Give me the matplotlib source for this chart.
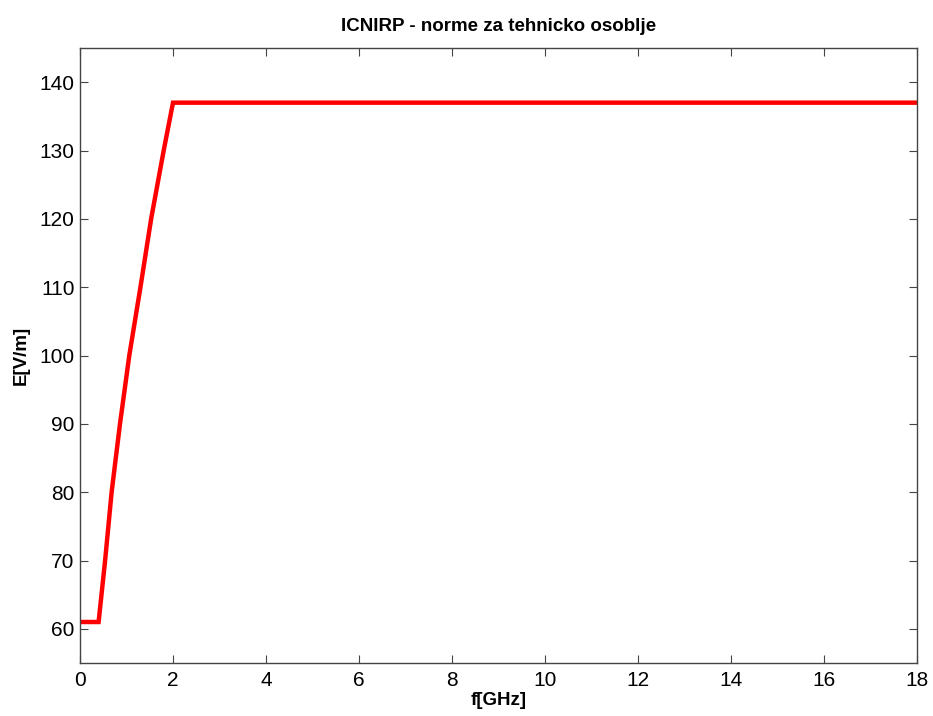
import matplotlib
matplotlib.use("Agg")
import matplotlib.pyplot as plt

freq_ghz = [0, 0.4, 0.54, 0.68, 0.86, 1.06, 1.30, 1.53, 1.80, 2.0, 18]
e_field = [61, 61, 70, 80, 90, 100, 110, 120, 130, 137, 137]
x_ticks = [0, 2, 4, 6, 8, 10, 12, 14, 16, 18]
y_ticks = [60, 70, 80, 90, 100, 110, 120, 130, 140]

plt.rcParams['font.family'] = ['Liberation Sans', 'DejaVu Sans']

fig = plt.figure(figsize=(9.33, 7.16), dpi=100)
ax = fig.add_axes([80/933, 53/716, (917-80)/933, (663-48)/716])
ax.plot(freq_ghz, e_field, color='#ff0000', lw=3.2, solid_joinstyle='miter')
ax.set_xlim(0, 18)
ax.set_ylim(55, 145)
ax.set_xticks(x_ticks)
ax.set_yticks(y_ticks)
ax.tick_params(direction='in', top=True, right=True, labelsize=15, length=6,
               width=0.8, color='#444444')
ax.tick_params(axis='x', pad=6)
ax.tick_params(axis='y', pad=4)
for s in ax.spines.values():
    s.set_color('#444444')
    s.set_linewidth(1.0)
ax.set_title('ICNIRP - norme za tehnicko osoblje', fontsize=13.5, fontweight='bold', pad=12)
ax.set_xlabel('f[GHz]', fontsize=13.5, fontweight='bold', labelpad=1)
ax.set_ylabel('E[V/m]', fontsize=13.5, fontweight='bold', labelpad=7)
fig.savefig('out.png', dpi=100)
